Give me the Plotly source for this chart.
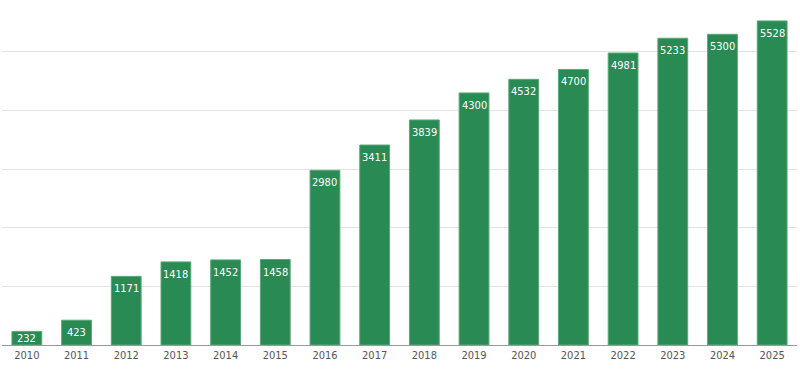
import plotly.graph_objects as go

years = ["2010", "2011", "2012", "2013", "2014", "2015", "2016", "2017",
         "2018", "2019", "2020", "2021", "2022", "2023", "2024", "2025"]
values = [232, 423, 1171, 1418, 1452, 1458, 2980, 3411,
          3839, 4300, 4532, 4700, 4981, 5233, 5300, 5528]

FONT = "Liberation Sans Narrow, DejaVu Sans Condensed, Roboto, sans-serif"

fig = go.Figure(go.Bar(
    x=years, y=values,
    marker=dict(color="#2a8a53", line=dict(color="#5aa878", width=1)),
    hoverinfo="x+y",
))

# value labels inside the bars, near the top (centred in short bars)
for i, v in enumerate(values):
    if v < 500:
        fig.add_annotation(x=i, y=v / 2, text=str(v), showarrow=False,
                           yanchor="middle",
                           font=dict(color="white", size=11, family=FONT))
    else:
        fig.add_annotation(x=i, y=v, text=str(v), showarrow=False,
                           yanchor="top", yshift=-4,
                           font=dict(color="white", size=11, family=FONT))

fig.update_layout(
    width=800, height=371,
    margin=dict(l=2, r=3, t=5, b=26),
    paper_bgcolor="white", plot_bgcolor="white",
    bargap=0.4,
    showlegend=False,
    font=dict(family=FONT),
)
fig.update_xaxes(
    type="category",
    range=[-0.5, len(years) - 0.5],
    showgrid=False,
    showline=True, linecolor="#9a9a9a", linewidth=1,
    ticks="", tickfont=dict(size=11, color="#555555", family=FONT),
)
fig.update_yaxes(
    range=[0, 5800],
    dtick=1000,
    showgrid=True, gridcolor="#e3e3e3", gridwidth=1,
    zeroline=False,
    showticklabels=False,
)

fig.write_html("out.html",
               config={"displayModeBar": False},
               post_script="document.body.style.margin='0';document.body.style.overflow='hidden';")
